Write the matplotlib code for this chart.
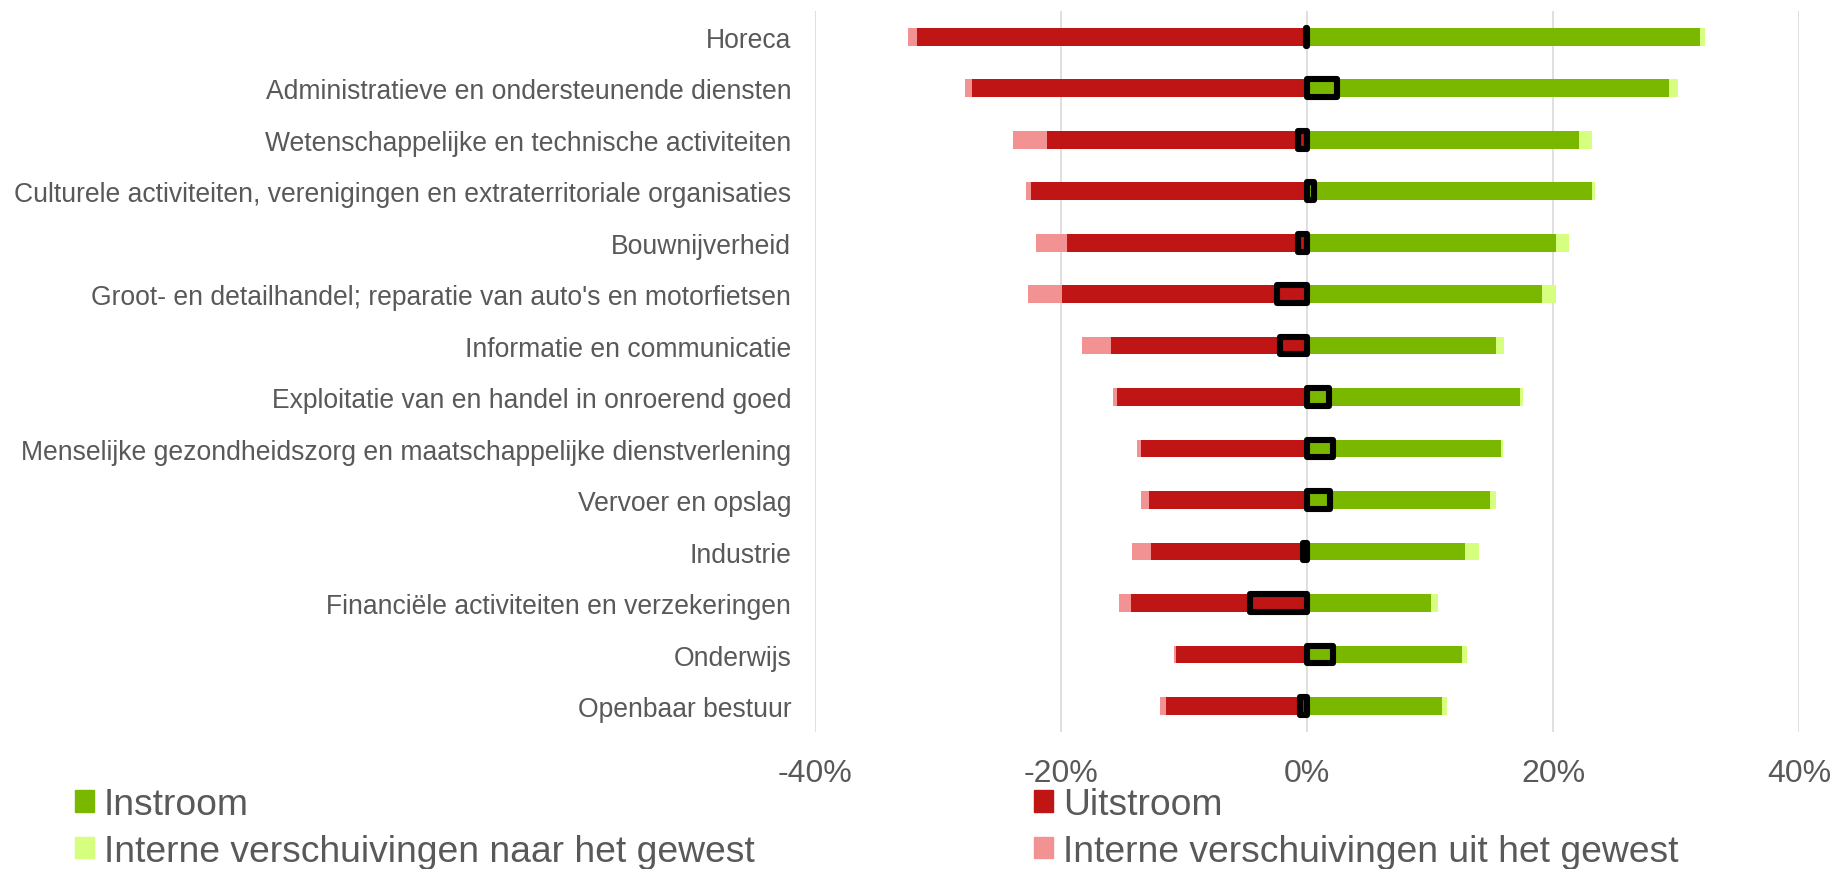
import matplotlib
matplotlib.use("Agg")
import matplotlib.pyplot as plt
from matplotlib.patches import Patch
import numpy as np

plt.rcParams['font.family'] = ['Liberation Sans', 'DejaVu Sans']

categories = [
    "Horeca",
    "Administratieve en ondersteunende diensten",
    "Wetenschappelijke en technische activiteiten",
    "Culturele activiteiten, verenigingen en extraterritoriale organisaties",
    "Bouwnijverheid",
    "Groot- en detailhandel; reparatie van auto's en motorfietsen",
    "Informatie en communicatie",
    "Exploitatie van en handel in onroerend goed",
    "Menselijke gezondheidszorg en maatschappelijke dienstverlening",
    "Vervoer en opslag",
    "Industrie",
    "Financiële activiteiten en verzekeringen",
    "Onderwijs",
    "Openbaar bestuur",
]
instroom = [31.96, 29.46, 22.1, 23.19, 20.22, 19.14, 15.37, 17.34, 15.81, 14.9, 12.82, 10.1, 12.62, 10.98]
intern_naar = [0.4, 0.7, 1.1, 0.25, 1.08, 1.1, 0.67, 0.22, 0.14, 0.5, 1.2, 0.53, 0.36, 0.39]
uitstroom = [31.7, 27.2, 21.1, 22.4, 19.5, 19.88, 15.9, 15.45, 13.52, 12.87, 12.65, 14.3, 10.65, 11.5]
intern_uit = [0.75, 0.6, 2.8, 0.47, 2.5, 2.8, 2.4, 0.3, 0.3, 0.65, 1.6, 0.97, 0.16, 0.47]
netto = [-0.1, 2.4, -0.7, 0.6, -0.7, -2.4, -2.2, 1.8, 2.1, 1.9, -0.3, -4.6, 2.1, -0.6]
xticks = [-40, -20, 0, 20, 40]
legend_labels = ["Instroom", "Interne verschuivingen naar het gewest",
                 "Uitstroom", "Interne verschuivingen uit het gewest"]

GREEN = "#7AB800"
LGREEN = "#D6FF80"
RED = "#C01515"
PINK = "#F39292"
TXT = "#595959"
GRID = "#D9D9D9"

fig = plt.figure(figsize=(18.35, 8.7), dpi=100)
ax = fig.add_axes([0.4441, 0.1575, 0.5363, 0.8287])

n = len(categories)
y = np.arange(n)
h = 0.34
ins = np.array(instroom); naar = np.array(intern_naar)
uit = np.array(uitstroom); iuit = np.array(intern_uit)

ax.barh(y, ins, height=h, color=GREEN, zorder=2)
ax.barh(y, naar, left=ins, height=h, color=LGREEN, zorder=2)
ax.barh(y, -uit, height=h, color=RED, zorder=2)
ax.barh(y, -iuit, left=-uit, height=h, color=PINK, zorder=2)
net_bars = ax.barh(y, netto, height=h,
                   color=[GREEN if v > 0 else RED for v in netto],
                   edgecolor="black", linewidth=4.4, zorder=3)
for p in net_bars.patches:
    p.set_joinstyle("round")

ax.set_xlim(-40, 40)
ax.set_ylim(n - 0.5, -0.5)
ax.set_xticks(xticks)
ax.set_xticklabels([f"{v}%" for v in xticks])
ax.set_yticks(y)
ax.set_yticklabels(categories)
ax.tick_params(axis="x", length=0, pad=19, labelsize=23, labelcolor=TXT)
ax.tick_params(axis="y", length=0, pad=17, labelsize=19.1, labelcolor=TXT)
ax.xaxis.grid(True, color=GRID, linewidth=1.2, zorder=0)
ax.set_axisbelow(True)
for s in ax.spines.values():
    s.set_visible(False)

handles = [Patch(color=GREEN), Patch(color=LGREEN), Patch(color=RED), Patch(color=PINK)]
fig.legend(handles, legend_labels, ncol=2, loc="upper left",
           bbox_to_anchor=(0.0407, 0.094), frameon=False, fontsize=26.8,
           labelcolor=TXT, handlelength=0.52, handleheight=0.5,
           handletextpad=0.27, columnspacing=7.5, labelspacing=0.31,
           borderpad=0, borderaxespad=0)

fig.savefig("out.png", dpi=100)
